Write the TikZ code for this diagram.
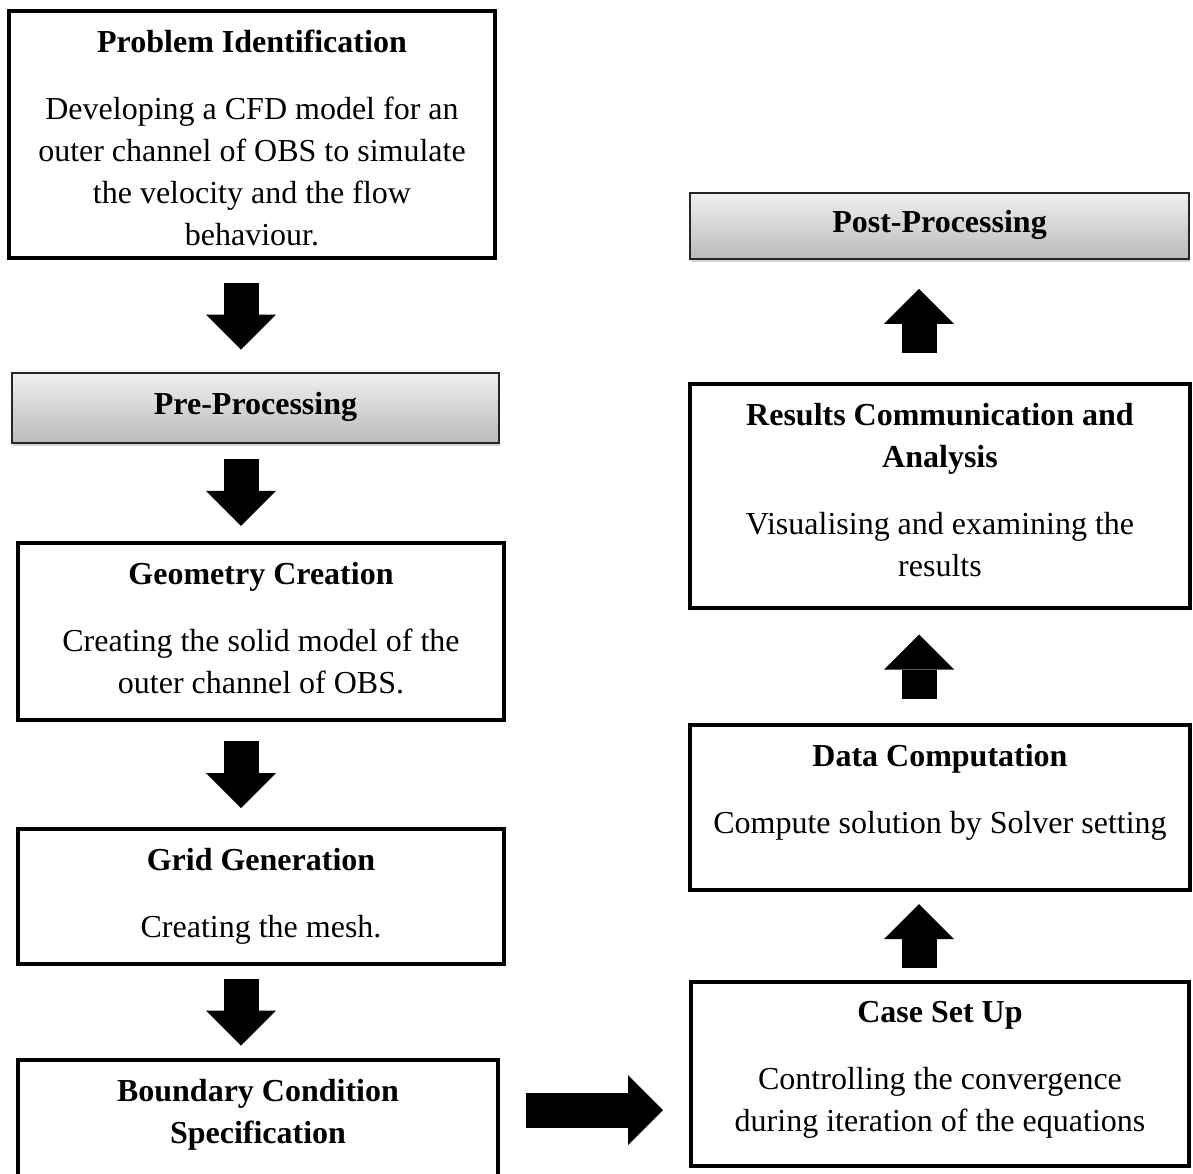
\documentclass[tikz,border=0pt]{standalone}
\usepackage{fontspec}
\setmainfont{Liberation Serif}
\usetikzlibrary{arrows.meta,calc,fit,shadows}

\tikzset{
  stagebox/.style={draw, line width=2pt, inner sep=0pt},
  phasebox/.style={draw=black!85, line width=0.7pt, inner sep=0pt,
    top color=black!6, bottom color=black!27,
    drop shadow={shadow xshift=0.6pt, shadow yshift=-1.6pt, opacity=0.35}},
  stagetext/.style={align=center, inner sep=0pt, anchor=north,
    font=\fontsize{16pt}{21pt}\selectfont},
  blockarrow/.style={line width=17.5pt,
    -{Triangle[length=17.5pt, width=35pt, line width=0pt]}},
}

% block arrow centred between two points: from, to, half length
\newcommand{\flowarrow}[3]{%
  \coordinate (m) at ($(#1)!.5!(#2)$);
  \draw[blockarrow] ($(m)!#3!(#1)$) -- ($(m)!#3!(#2)$);
}

\begin{document}
\begin{tikzpicture}[x=0.5pt, y=-0.5pt]
  \useasboundingbox (0,0) rectangle (1193,1173);
  \clip (0,0) rectangle (1193,1173);

  % left column
  \node[stagebox, fit={(9,11) (495,258)}] (prob) {};
  \node[phasebox, fit={(12,373) (499,443)}] (pre) {};
  \node[stagebox, fit={(18,543) (504,720)}] (geom) {};
  \node[stagebox, fit={(18,829) (504,964)}] (grid) {};
  \node[stagebox, fit={(18,1060) (498,1234)}] (bcs) {};

  % right column
  \node[phasebox, fit={(690,193) (1189,259)}] (post) {};
  \node[stagebox, fit={(690,384) (1190,608)}] (res) {};
  \node[stagebox, fit={(690,725) (1190,890)}] (data) {};
  \node[stagebox, fit={(691,982) (1189,1166)}] (case) {};

  % texts
  \node[stagetext] (probtext) at ([yshift=-10.5pt]prob.north)
    {\textbf{Problem Identification}\\[12.5pt]Developing a CFD model for an\\
     outer channel of OBS to simulate\\the velocity and the flow\\behaviour.};
  \node[stagetext, anchor=base] (pretext) at ([yshift=-3pt]pre.center) {\textbf{Pre-Processing}};
  \node[stagetext] (geomtext) at ([yshift=-10.5pt]geom.north)
    {\textbf{Geometry Creation}\\[12.5pt]Creating the solid model of the\\
     outer channel of OBS.};
  \node[stagetext] (gridtext) at ([yshift=-10.5pt]grid.north)
    {\textbf{Grid Generation}\\[12.5pt]Creating the mesh.};
  \node[stagetext] (bcstext) at ([yshift=-10.5pt]bcs.north)
    {\textbf{Boundary Condition}\\\textbf{Specification}};

  \node[stagetext, anchor=base] (posttext) at ([yshift=-3pt]post.center) {\textbf{Post-Processing}};
  \node[stagetext] (restext) at ([yshift=-10.5pt]res.north)
    {\textbf{Results Communication and}\\\textbf{Analysis}\\[12.5pt]
     Visualising and examining the\\results};
  \node[stagetext] (datatext) at ([yshift=-10.5pt]data.north)
    {\textbf{Data Computation}\\[12.5pt]Compute solution by Solver setting};
  \node[stagetext] (casetext) at ([yshift=-10.5pt]case.north)
    {\textbf{Case Set Up}\\[12.5pt]Controlling the convergence\\
     during iteration of the equations};

  % arrows
  \coordinate (lcol) at (241,0);
  \coordinate (rcol) at (919,0);
  \coordinate (brow) at (0,1110);
  \flowarrow{prob.south -| lcol}{pre.north -| lcol}{16.75pt}
  \flowarrow{pre.south -| lcol}{geom.north -| lcol}{16.75pt}
  \flowarrow{geom.south -| lcol}{grid.north -| lcol}{16.75pt}
  \flowarrow{grid.south -| lcol}{bcs.north -| lcol}{16.75pt}
  \flowarrow{bcs.east |- brow}{case.west |- brow}{34.25pt}
  \flowarrow{case.north -| rcol}{data.south -| rcol}{16pt}
  \flowarrow{data.north -| rcol}{res.south -| rcol}{16pt}
  \flowarrow{res.north -| rcol}{post.south -| rcol}{16pt}
\end{tikzpicture}
\end{document}
